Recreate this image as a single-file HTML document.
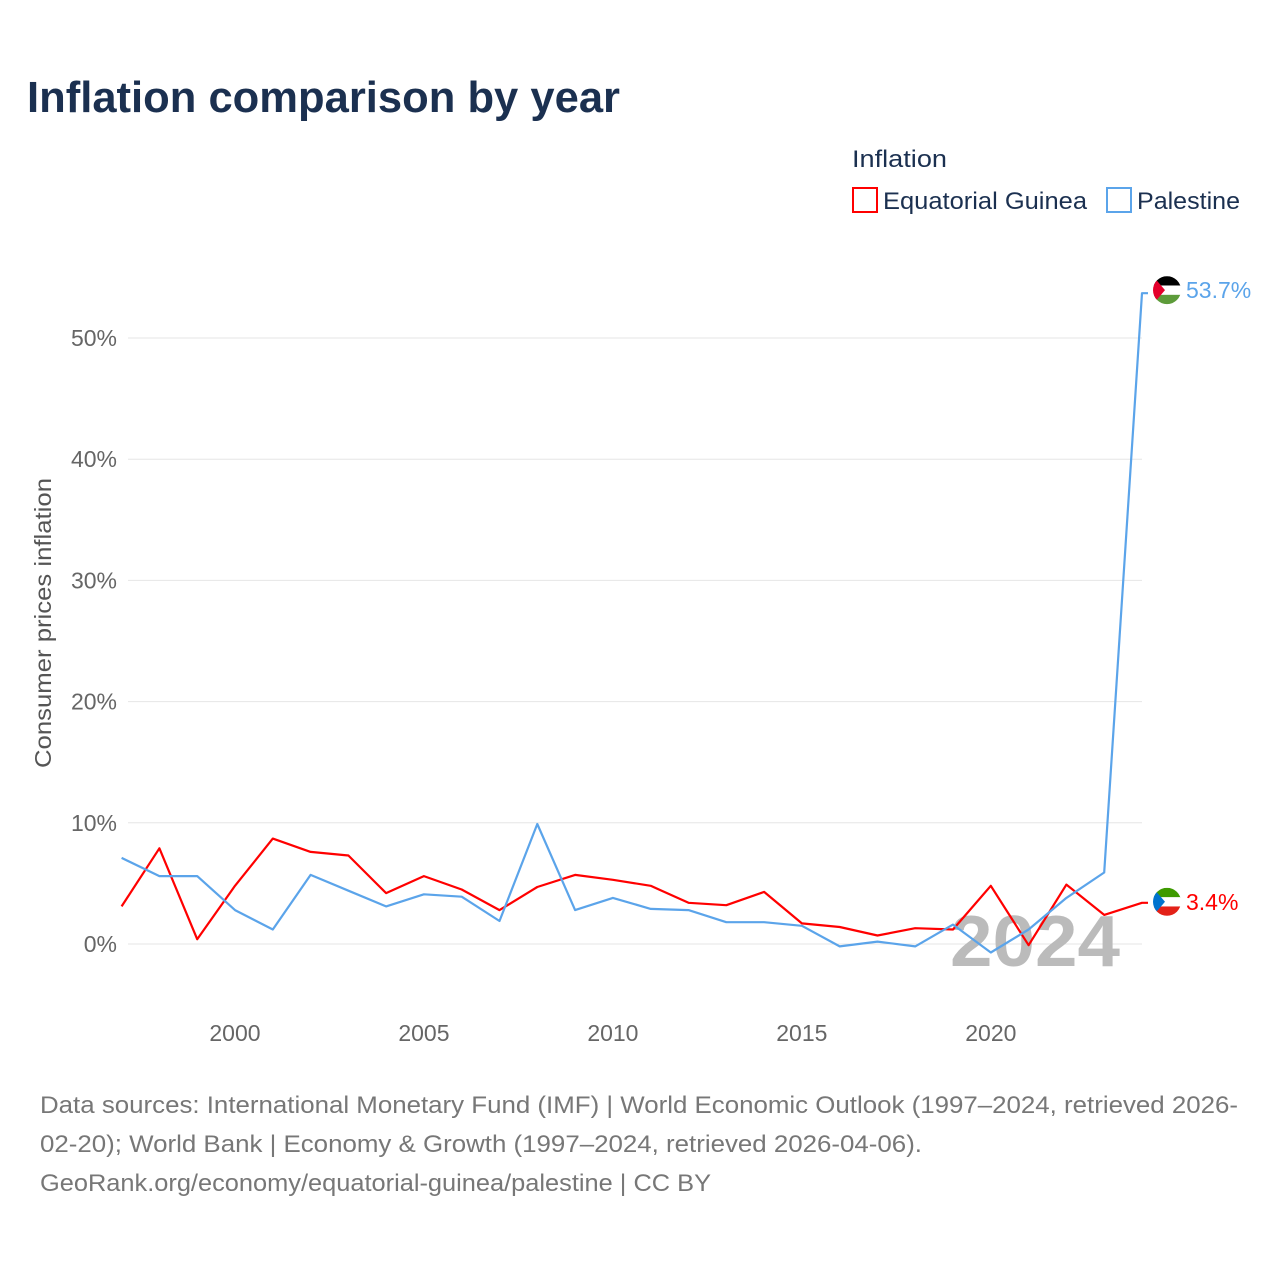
<!DOCTYPE html>
<html><head><meta charset="utf-8"><style>
body{margin:0;background:#fff;font-family:"Liberation Sans",sans-serif;}
svg text{font-family:"Liberation Sans",sans-serif;}
</style></head><body>
<svg width="1280" height="1280" viewBox="0 0 1280 1280">
<text x="27" y="112" font-size="44" font-weight="bold" fill="#1b3050" textLength="593" lengthAdjust="spacingAndGlyphs">Inflation comparison by year</text>
<text x="852" y="167" font-size="24" fill="#1b3050" textLength="95" lengthAdjust="spacingAndGlyphs">Inflation</text>
<g><rect x="853" y="188" width="24" height="24" fill="none" stroke="#f00" stroke-width="2"/><text x="883" y="209" font-size="24" fill="#1b3050" textLength="204" lengthAdjust="spacingAndGlyphs">Equatorial Guinea</text></g>
<g><rect x="1107" y="188" width="24" height="24" fill="none" stroke="#5ba4ea" stroke-width="2"/><text x="1137" y="209" font-size="24" fill="#1b3050" textLength="103" lengthAdjust="spacingAndGlyphs">Palestine</text></g>
<g id="grid"></g>
<g id="yticks"></g>
<g id="xticks"></g>
<text transform="translate(51,623) rotate(-90)" text-anchor="middle" font-size="23" fill="#555" textLength="290" lengthAdjust="spacingAndGlyphs">Consumer prices inflation</text>
<text x="950" y="966" font-size="72" font-weight="bold" fill="#bbb" textLength="170" lengthAdjust="spacingAndGlyphs">2024</text>
<g id="series"></g>
<text x="40" y="1113" font-size="24" fill="#777" textLength="1198" lengthAdjust="spacingAndGlyphs">Data sources: International Monetary Fund (IMF) | World Economic Outlook (1997–2024, retrieved 2026-</text>
<text x="40" y="1152" font-size="24" fill="#777" textLength="882" lengthAdjust="spacingAndGlyphs">02-20); World Bank | Economy &amp; Growth (1997–2024, retrieved 2026-04-06).</text>
<text x="40" y="1191" font-size="24" fill="#777" textLength="671" lengthAdjust="spacingAndGlyphs">GeoRank.org/economy/equatorial-guinea/palestine | CC BY</text>
</svg>
<script>
const years=[1997,1998,1999,2000,2001,2002,2003,2004,2005,2006,2007,2008,2009,2010,2011,2012,2013,2014,2015,2016,2017,2018,2019,2020,2021,2022,2023,2024];
const eqGuinea=[3.1,7.9,0.4,4.8,8.7,7.6,7.3,4.2,5.6,4.5,2.8,4.7,5.7,5.3,4.8,3.4,3.2,4.3,1.7,1.4,0.7,1.3,1.2,4.8,-0.1,4.9,2.4,3.4];
const palestine=[7.1,5.6,5.6,2.8,1.2,5.7,4.4,3.1,4.1,3.9,1.9,9.9,2.8,3.8,2.9,2.8,1.8,1.8,1.5,-0.2,0.2,-0.2,1.6,-0.7,1.2,3.8,5.9,53.7];
const yTicks=[0,10,20,30,40,50];
const xTicks=[2000,2005,2010,2015,2020];
const NS="http://www.w3.org/2000/svg";
const X=y=>121.6+(y-1997)*(1142-121.6)/27;
const Y=v=>944-v*12.12;
function mk(tag,attrs,parent,txt){const e=document.createElementNS(NS,tag);for(const k in attrs)e.setAttribute(k,attrs[k]);if(txt!==undefined)e.textContent=txt;parent.appendChild(e);return e;}
const grid=document.getElementById('grid'),yt=document.getElementById('yticks'),xt=document.getElementById('xticks'),ser=document.getElementById('series');
yTicks.forEach(t=>{
 const l=mk('line',{x1:128,x2:1142,y1:Y(t),y2:Y(t),stroke:'#e6e6e6','stroke-width':1},grid);
 
 
 const tx=mk('text',{x:117,y:Y(t)+8,'text-anchor':'end','font-size':23,fill:'#666'},yt,t+'%');
 
 
});
xTicks.forEach(t=>{
 const tx=mk('text',{x:X(t),y:1041,'text-anchor':'middle','font-size':23,fill:'#666'},xt,String(t));
 
 
});
function line(vals,color,name,label,flag,dy){
 const pts=vals.map((v,i)=>X(years[i]).toFixed(1)+','+Y(v).toFixed(1)).join(' ');
 const last=vals[vals.length-1];
 const p=mk('polyline',{points:pts+' '+(X(2024)+6)+','+Y(last).toFixed(1),fill:'none',stroke:color,'stroke-width':2.2,'stroke-linejoin':'round'},ser);
 
 
 const g=mk('g',{},ser);
 
 
 const cx=1167,cy=Y(last)+dy;
 mk('clipPath',{id:'c'+name},g);
 const cp=g.lastChild;mk('circle',{cx:cx,cy:cy,r:14},cp);
 const gg=mk('g',{'clip-path':'url(#c'+name+')'},g);
 flag.forEach((c,i)=>mk('rect',{x:cx-14,y:cy-14+i*28/3,width:28,height:28/3+0.5,fill:c},gg));
 mk('polygon',{points:(cx-14)+','+(cy-14)+' '+(cx-2)+','+cy+' '+(cx-14)+','+(cy+14),fill:name==='palestine'?'#e4002b':'#0073ce'},gg);
 const t=mk('text',{x:1186,y:cy+8,'font-size':23,fill:color},ser,label);
 
 
}
line(eqGuinea,'#ff0000','equatorial-guinea',eqGuinea[27]+'%',['#3e9a00','#ffffff','#e32118'],-1);
line(palestine,'#5ba4ea','palestine',palestine[27]+'%',['#000000','#ffffff','#5d9b3a'],-3);
</script>
</body></html>
